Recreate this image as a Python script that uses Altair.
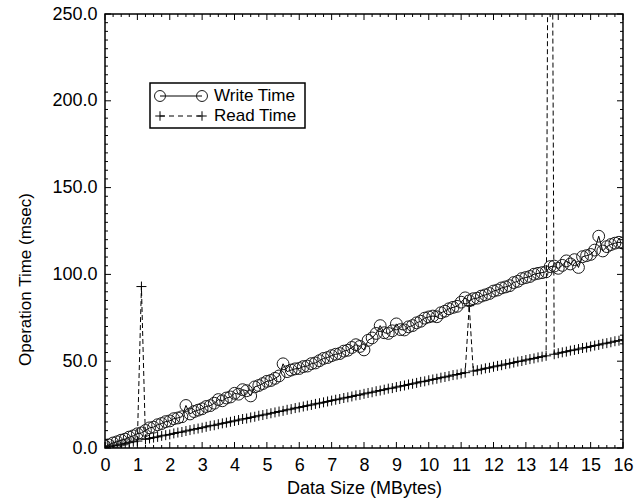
import altair as alt
import pandas as pd

# ---------------- data ----------------
sizes = [
    0.0, 0.125, 0.25, 0.375, 0.5, 0.625, 0.75, 0.875,
    1.0, 1.125, 1.25, 1.375, 1.5, 1.625, 1.75, 1.875,
    2.0, 2.125, 2.25, 2.375, 2.5, 2.625, 2.75, 2.875,
    3.0, 3.125, 3.25, 3.375, 3.5, 3.625, 3.75, 3.875,
    4.0, 4.125, 4.25, 4.375, 4.5, 4.625, 4.75, 4.875,
    5.0, 5.125, 5.25, 5.375, 5.5, 5.625, 5.75, 5.875,
    6.0, 6.125, 6.25, 6.375, 6.5, 6.625, 6.75, 6.875,
    7.0, 7.125, 7.25, 7.375, 7.5, 7.625, 7.75, 7.875,
    8.0, 8.125, 8.25, 8.375, 8.5, 8.625, 8.75, 8.875,
    9.0, 9.125, 9.25, 9.375, 9.5, 9.625, 9.75, 9.875,
    10.0, 10.125, 10.25, 10.375, 10.5, 10.625, 10.75, 10.875,
    11.0, 11.125, 11.25, 11.375, 11.5, 11.625, 11.75, 11.875,
    12.0, 12.125, 12.25, 12.375, 12.5, 12.625, 12.75, 12.875,
    13.0, 13.125, 13.25, 13.375, 13.5, 13.625, 13.75, 13.875,
    14.0, 14.125, 14.25, 14.375, 14.5, 14.625, 14.75, 14.875,
    15.0, 15.125, 15.25, 15.375, 15.5, 15.625, 15.75, 15.875,
    16.0,
]

write_ms = [
    1.0, 1.8, 2.9, 3.6, 4.5, 5.1, 6.3, 7.0,
    8.2, 8.7, 10.1, 11.6, 12.0, 13.4, 14.1, 15.2,
    15.6, 16.9, 17.3, 18.0, 24.5, 19.6, 21.0, 21.8,
    22.6, 23.9, 24.4, 25.8, 27.9, 27.2, 28.8, 29.4,
    31.5, 31.0, 33.6, 33.0, 30.0, 35.2, 36.0, 37.1,
    38.4, 38.9, 40.1, 41.5, 48.5, 44.0, 44.9, 45.6,
    45.8, 46.9, 47.2, 48.6, 49.0, 50.3, 51.6, 52.1,
    53.2, 54.0, 54.4, 55.8, 56.3, 57.9, 59.5, 58.5,
    56.5, 62.0, 63.4, 66.0, 70.5, 66.4, 66.0, 67.5,
    71.5, 68.2, 68.0, 69.8, 70.5, 72.1, 73.0, 74.8,
    75.5, 76.0, 75.6, 77.9, 78.8, 80.2, 81.0, 81.6,
    84.0, 86.5, 84.8, 86.0, 86.3, 87.5, 88.2, 89.0,
    90.4, 91.0, 92.2, 92.8, 93.5, 95.3, 96.0, 97.6,
    98.2, 98.8, 100.1, 100.6, 101.0, 101.5, 104.5, 104.8,
    103.5, 105.2, 107.8, 106.0, 108.5, 104.0, 110.2, 110.8,
    111.5, 114.0, 122.0, 113.5, 116.0, 117.2, 118.0, 118.5,
    118.0,
]

read_ms = [
    0.4, 0.8, 1.3, 1.7, 2.2, 2.5, 3.1, 3.6,
    4.0, 93.0, 5.0, 5.5, 6.0, 6.4, 7.0, 7.4,
    7.8, 8.4, 8.9, 9.2, 9.8, 10.3, 10.8, 11.2,
    11.7, 12.2, 12.8, 13.1, 13.7, 14.2, 14.6, 15.1,
    15.6, 16.1, 16.7, 17.0, 17.6, 18.0, 18.6, 19.0,
    19.5, 20.0, 20.5, 21.0, 21.4, 22.0, 22.4, 23.0,
    23.4, 23.9, 24.4, 24.8, 25.4, 25.8, 26.3, 26.8,
    27.3, 27.8, 28.2, 28.8, 29.2, 29.7, 30.3, 30.6,
    31.2, 31.7, 32.1, 32.7, 33.1, 33.6, 34.2, 34.5,
    35.1, 35.6, 36.0, 36.6, 37.0, 37.5, 38.1, 38.4,
    39.0, 39.5, 39.9, 40.5, 40.9, 41.4, 42.0, 42.3,
    42.9, 43.4, 82.0, 44.3, 44.8, 45.3, 45.9, 46.2,
    46.8, 47.3, 47.7, 48.3, 48.7, 49.2, 49.8, 50.1,
    50.7, 51.2, 51.6, 52.2, 52.6, 53.1, 600.0, 54.0,
    54.6, 55.1, 55.5, 56.1, 56.5, 57.0, 57.6, 57.9,
    58.5, 59.0, 59.4, 60.0, 60.4, 60.9, 61.5, 61.8,
    62.4,
]

x_major = list(range(0, 17))
x_minor = [i / 4 for i in range(0, 65) if i % 4 != 0]
y_major = list(range(0, 251, 50))
y_minor = [v for v in range(0, 251, 5) if v % 50 != 0]

series_names = ["Write Time", "Read Time"]

# ---------------- layout ----------------
W, H = 518, 434
FONT = "Liberation Sans"
INK = "black"

xs = alt.Scale(domain=[0, 16], nice=False, zero=False)
ys = alt.Scale(domain=[0, 250], nice=False, zero=False)

df = pd.DataFrame({"size": sizes, "write": write_ms, "read": read_ms})

x_axis = alt.Axis(
    values=x_major, format="d", title="Data Size (MBytes)",
    ticks=False, domain=False, grid=False,
    labelFont=FONT, labelFontSize=18, labelPadding=8, labelColor=INK,
    labelFlush=False,
    titleFont=FONT, titleFontSize=18, titleFontWeight="normal",
    titleColor=INK, titlePadding=5,
)
y_axis = alt.Axis(
    values=y_major, format=".1f", title="Operation Time (msec)",
    ticks=False, domain=False, grid=False,
    labelFont=FONT, labelFontSize=18, labelPadding=8, labelColor=INK,
    labelFlush=False,
    titleFont=FONT, titleFontSize=17, titleFontWeight="normal",
    titleColor=INK, titleAngle=270, titleAlign="center",
    titleBaseline="middle", titleX=-80, titleY=265,
)

base = alt.Chart(df)
X = alt.X("size:Q", scale=xs, axis=x_axis)

read_line = base.mark_line(
    color=INK, strokeWidth=1, strokeDash=[5, 3], clip=True
).encode(x=X, y=alt.Y("read:Q", scale=ys, axis=y_axis))

read_pts = base.mark_point(
    shape="M-1,0H1M0,-1V1", size=100, filled=False, color=INK,
    strokeWidth=1, opacity=1, clip=True,
).encode(x=X, y=alt.Y("read:Q", scale=ys, axis=y_axis))

write_line = base.mark_line(
    color=INK, strokeWidth=1, clip=True
).encode(x=X, y=alt.Y("write:Q", scale=ys, axis=y_axis))

write_pts = base.mark_point(
    shape="circle", size=140, filled=False, color="#1a1a1a",
    strokeWidth=1, opacity=1, clip=True,
).encode(x=X, y=alt.Y("write:Q", scale=ys, axis=y_axis))


# ---------------- inward ticks on all four sides ----------------
def x_ticks(vals, length):
    c = alt.Chart(pd.DataFrame({"size": vals}))
    xe = alt.X("size:Q", scale=xs, axis=x_axis)
    bottom = c.mark_rule(color=INK, strokeWidth=1).encode(
        x=xe, y=alt.value(H), y2=alt.value(H - length))
    top = c.mark_rule(color=INK, strokeWidth=1).encode(
        x=xe, y=alt.value(0), y2=alt.value(length))
    return [bottom, top]


def y_ticks(vals, length):
    c = alt.Chart(pd.DataFrame({"read": vals}))
    ye = alt.Y("read:Q", scale=ys, axis=y_axis)
    left = c.mark_rule(color=INK, strokeWidth=1).encode(
        y=ye, x=alt.value(0), x2=alt.value(length))
    right = c.mark_rule(color=INK, strokeWidth=1).encode(
        y=ye, x=alt.value(W), x2=alt.value(W - length))
    return [left, right]


tick_layers = (x_ticks(x_major, 6) + x_ticks(x_minor, 3)
               + y_ticks(y_major, 6) + y_ticks(y_minor, 3))

# ---------------- legend (drawn by hand) ----------------
lc = alt.Chart(pd.DataFrame({"k": [0]}))
BX0, BX1, BY0, BY1 = 45, 200, 69, 114
R1, R2 = 82, 102
SX0, SX1, TX = 55, 97, 109

leg_box = lc.mark_rect(fill="white", stroke=INK, strokeWidth=1.5).encode(
    x=alt.value(BX0), x2=alt.value(BX1), y=alt.value(BY0), y2=alt.value(BY1))
leg_l1 = lc.mark_rule(color=INK, strokeWidth=1).encode(
    x=alt.value(SX0), x2=alt.value(SX1), y=alt.value(R1))
leg_c1 = lc.mark_point(shape="circle", size=120, filled=False, color="#1a1a1a",
                       strokeWidth=1, opacity=1).encode(x=alt.value(SX0), y=alt.value(R1))
leg_c2 = lc.mark_point(shape="circle", size=120, filled=False, color="#1a1a1a",
                       strokeWidth=1, opacity=1).encode(x=alt.value(SX1), y=alt.value(R1))
leg_t1 = lc.mark_text(align="left", baseline="middle", font=FONT, fontSize=17,
                      color=INK).encode(x=alt.value(TX), y=alt.value(R1),
                                        text=alt.value(series_names[0]))
leg_l2 = lc.mark_rule(color=INK, strokeWidth=1, strokeDash=[5, 4]).encode(
    x=alt.value(SX0), x2=alt.value(SX1), y=alt.value(R2))
leg_p1 = lc.mark_point(shape="M-1,0H1M0,-1V1", size=90, filled=False, color=INK,
                       strokeWidth=1, opacity=1).encode(x=alt.value(SX0), y=alt.value(R2))
leg_p2 = lc.mark_point(shape="M-1,0H1M0,-1V1", size=90, filled=False, color=INK,
                       strokeWidth=1, opacity=1).encode(x=alt.value(SX1), y=alt.value(R2))
leg_t2 = lc.mark_text(align="left", baseline="middle", font=FONT, fontSize=17,
                      color=INK).encode(x=alt.value(TX), y=alt.value(R2),
                                        text=alt.value(series_names[1]))

legend_layers = [leg_box, leg_l1, leg_c1, leg_c2, leg_t1,
                 leg_l2, leg_p1, leg_p2, leg_t2]

chart = alt.layer(
    read_line, read_pts, write_line, write_pts,
    *tick_layers, *legend_layers
).properties(
    width=W, height=H,
    autosize=alt.AutoSizeParams(type="none"),
    padding={"left": 105, "top": 14, "right": 12, "bottom": 54},
    background="white",
).configure_view(
    stroke=INK, strokeWidth=1.5
)

chart.save("out.html", embed_options={"renderer": "svg", "actions": False})
